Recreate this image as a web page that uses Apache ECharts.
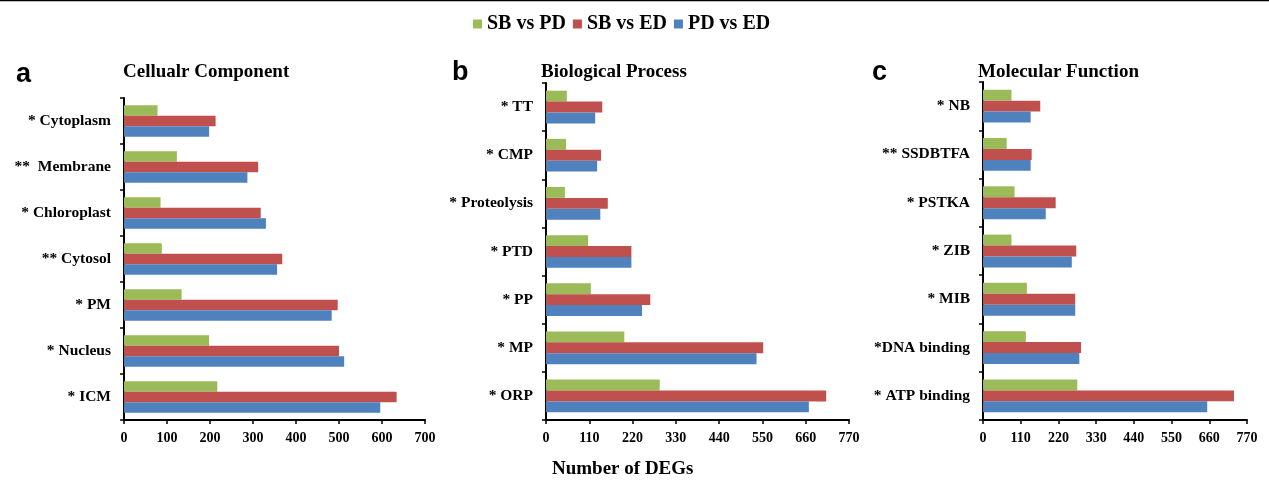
<!DOCTYPE html>
<html>
<head>
<meta charset="utf-8">
<script src="https://cdn.jsdelivr.net/npm/echarts@6/dist/echarts.min.js"></script>
<style>
html,body{margin:0;padding:0;background:#fff;}
#chart{width:1269px;height:480px;}
</style>
</head>
<body>
<div id="chart"></div>
<script>
// Categories listed bottom-to-top
var catsA = ['* ICM', '* Nucleus', '* PM', '** Cytosol', '* Chloroplast', '**  Membrane', '* Cytoplasm'];
var catsB = ['* ORP', '* MP', '* PP', '* PTD', '* Proteolysis', '* CMP', '* TT'];
var catsC = ['* ATP binding', '*DNA binding', '* MIB', '* ZIB', '* PSTKA', '** SSDBTFA', '* NB'];

var seriesNames = ['SB vs PD', 'SB vs ED', 'PD vs ED'];

var aSBvsPD = [217, 198, 134, 88, 85, 123, 78];
var aSBvsED = [634, 500, 497, 368, 318, 312, 213];
var aPDvsED = [596, 512, 483, 356, 330, 287, 198];

var bSBvsPD = [289, 199, 114, 107, 48, 51, 53];
var bSBvsED = [712, 552, 265, 217, 157, 140, 143];
var bPDvsED = [668, 535, 244, 217, 138, 130, 125];

var cSBvsPD = [275, 125, 128, 83, 92, 69, 83];
var cSBvsED = [732, 286, 269, 272, 212, 142, 167];
var cPDvsED = [654, 281, 269, 259, 183, 139, 139];

var xTicksA = {min: 0, max: 700, interval: 100};
var xTicksBC = {min: 0, max: 770, interval: 110};

var colors = {'SB vs PD': '#9BBB59', 'SB vs ED': '#C0504D', 'PD vs ED': '#4F81BD'};
var serif = '"Liberation Serif", "Times New Roman", serif';

var grids = [
  {left: 124, top: 98, width: 301, height: 322},
  {left: 546, top: 83, width: 303, height: 337},
  {left: 983, top: 82, width: 264, height: 338}
];

function xAxis(i, t) {
  return {
    type: 'value', gridIndex: i, min: t.min, max: t.max, interval: t.interval,
    axisLine: {show: true, lineStyle: {color: '#000', width: 2}},
    axisTick: {show: true, length: 4, lineStyle: {color: '#000', width: 1.5}},
    splitLine: {show: false},
    axisLabel: {color: '#000', fontFamily: serif, fontWeight: 'bold', fontSize: 14, margin: 11}
  };
}
function yAxis(i, cats) {
  return {
    type: 'category', gridIndex: i, data: cats,
    axisLine: {show: true, lineStyle: {color: '#000', width: 2}},
    axisTick: {show: true, length: 4, lineStyle: {color: '#000', width: 1.5}},
    axisLabel: {color: '#000', fontFamily: serif, fontWeight: 'bold', fontSize: 15.5, margin: 13}
  };
}
var panelData = [
  [aSBvsPD, aSBvsED, aPDvsED],
  [bSBvsPD, bSBvsED, bPDvsED],
  [cSBvsPD, cSBvsED, cPDvsED]
];
var series = [];
panelData.forEach(function (arrs, i) {
  arrs.forEach(function (arr, k) {
    series.push({
      name: seriesNames[k], type: 'bar', xAxisIndex: i, yAxisIndex: i, data: arr,
      barGap: '0%', barCategoryGap: '32%',
      itemStyle: {color: colors[seriesNames[k]]}
    });
  });
});

var titleStyle = {fontFamily: serif, fontWeight: 'bold', fontSize: 19, color: '#000'};
var letterStyle = {fontFamily: '"Liberation Sans", Arial, sans-serif', fontWeight: 'bold', fontSize: 27, color: '#000'};

var option = {
  animation: false,
  backgroundColor: '#fff',
  legend: {
    data: seriesNames, top: 9, left: 468,
    itemWidth: 9, itemHeight: 9, itemGap: 7,
    icon: 'rect',
    textStyle: {fontFamily: serif, fontWeight: 'bold', fontSize: 20, color: '#000'}
  },
  title: [
    {text: 'a', left: 11, top: 56, textStyle: letterStyle},
    {text: 'b', left: 447, top: 54, textStyle: letterStyle},
    {text: 'c', left: 867, top: 54, textStyle: letterStyle},
    {text: 'Cellualr Component', left: 118, top: 58, textStyle: titleStyle},
    {text: 'Biological Process', left: 536, top: 58, textStyle: titleStyle},
    {text: 'Molecular Function', left: 973, top: 58, textStyle: titleStyle},
    {text: 'Number of DEGs', left: 547, top: 455, textStyle: titleStyle}
  ],
  graphic: [
    {type: 'line', shape: {x1: 0, y1: 0.5, x2: 1269, y2: 0.5}, style: {stroke: '#000', lineWidth: 1.5}}
  ],
  grid: grids,
  xAxis: [xAxis(0, xTicksA), xAxis(1, xTicksBC), xAxis(2, xTicksBC)],
  yAxis: [yAxis(0, catsA), yAxis(1, catsB), yAxis(2, catsC)],
  series: series
};
var chart = echarts.init(document.getElementById('chart'), null, {renderer: 'canvas'});
chart.setOption(option);
</script>
</body>
</html>
